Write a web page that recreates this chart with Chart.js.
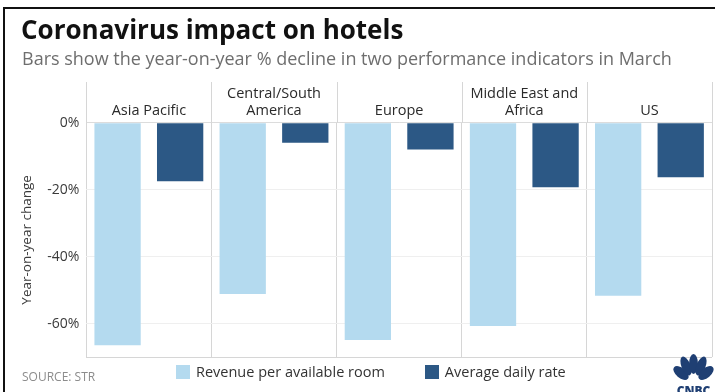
<!DOCTYPE html>
<html>
<head>
<meta charset="utf-8">
<script src="https://cdn.jsdelivr.net/npm/chart.js@4.4.1/dist/chart.umd.min.js"></script>
<style>
  html, body { margin: 0; padding: 0; background: #fff; }
  body { width: 715px; height: 392px; position: relative; overflow: hidden; font-family: 'Open Sans', sans-serif; }
  .frame { position: absolute; left: 3px; top: 7px; width: 730px; height: 400px; border-left: 2px solid #111; border-top: 2px solid #111; }
  #wrap { position: absolute; left: 0; top: 0; width: 715px; height: 392px; }
  .title { position: absolute; left: 21px; top: 16px; font-size: 26px; line-height: 1; font-weight: 700; color: #111; white-space: nowrap; }
  .subtitle { position: absolute; left: 22px; top: 49px; font-size: 18px; line-height: 1; color: #6e6e6e; white-space: nowrap; }
  .source { position: absolute; left: 22px; top: 371px; font-size: 12px; line-height: 1; color: #8c8c8c; white-space: nowrap; }
  .legend { position: absolute; top: 364px; left: 176px; font-size: 14.5px; line-height: 15px; color: #333; white-space: nowrap; }
  .legend span.sw { display: inline-block; width: 14px; height: 14px; vertical-align: -2px; margin-right: 6px; }
  .legend .item { display: inline-block; margin-right: 40px; }
  .logo { position: absolute; left: 672px; top: 352px; }
</style>
</head>
<body>
<div class="frame"></div>
<div id="wrap"><canvas id="chart"></canvas></div>
<div class="title">Coronavirus impact on hotels</div>
<div class="subtitle">Bars show the year-on-year % decline in two performance indicators in March</div>
<div class="source">SOURCE: STR</div>
<div class="legend" id="legend"></div>
<svg class="logo" width="43" height="40" viewBox="0 0 43 40">
  <g fill="#1f3f73">
    <ellipse cx="9" cy="21" rx="5" ry="9" transform="rotate(-50 9 21)"/>
    <ellipse cx="14" cy="14" rx="4.5" ry="10" transform="rotate(-22 14 14)"/>
    <ellipse cx="21.5" cy="12" rx="4.5" ry="10"/>
    <ellipse cx="29" cy="14" rx="4.5" ry="10" transform="rotate(22 29 14)"/>
    <ellipse cx="34" cy="21" rx="5" ry="9" transform="rotate(50 34 21)"/>
  </g>
  <text x="21.5" y="43" text-anchor="middle" font-family="Open Sans" font-weight="800" font-size="12" fill="#1f3f73">CNBC</text>
</svg>
<script>
// regions along the top axis
const regions = ['Asia Pacific', ['Central/South', 'America'], 'Europe', ['Middle East and', 'Africa'], 'US'];
// year-on-year % change, March
const revpar = [-66.5, -51.2, -64.9, -60.7, -51.7];
const adr = [-17.5, -6, -8, -19.3, -16.3];
const seriesNames = ['Revenue per available room', 'Average daily rate'];
const seriesColors = ['#b4daef', '#2c5885'];
const yTicks = [0, -20, -40, -60];

const font = 'Open Sans';
const lineColor = '#d6d6d6';

// carry the panel dividers up through the label band
const dividerPlugin = {
  id: 'dividers',
  afterDraw(chart) {
    const x = chart.scales.x;
    const c = chart.ctx;
    const half = (x.getPixelForValue(1) - x.getPixelForValue(0)) / 2;
    c.save();
    c.strokeStyle = lineColor;
    c.lineWidth = 1;
    for (let i = 0; i <= regions.length; i++) {
      const px = Math.round(x.getPixelForValue(i) - half) + 0.5;
      c.beginPath();
      c.moveTo(px, x.top);
      c.lineTo(px, chart.chartArea.top);
      c.stroke();
    }
    c.restore();
  }
};

const ctx = document.getElementById('chart').getContext('2d');
new Chart(ctx, {
  type: 'bar',
  data: {
    labels: regions,
    datasets: [
      { label: seriesNames[0], data: revpar, backgroundColor: seriesColors[0] },
      { label: seriesNames[1], data: adr, backgroundColor: seriesColors[1] }
    ]
  },
  options: {
    responsive: true,
    maintainAspectRatio: false,
    animation: false,
    layout: { padding: { left: 19, right: 3, top: 82, bottom: 35 } },
    datasets: {
      bar: { categoryPercentage: 1, barPercentage: 0.74, borderWidth: 0 }
    },
    plugins: {
      legend: { display: false },
      tooltip: { enabled: false }
    },
    scales: {
      x: {
        position: 'top',
        grid: {
          offset: true,
          color: lineColor,
          lineWidth: 1,
          drawTicks: false
        },
        border: { display: true, color: '#dcdcdc' },
        ticks: {
          color: '#2a2a2a',
          font: { family: font, size: 14.5 },
          padding: 3,
          maxRotation: 0,
          autoSkip: false
        }
      },
      y: {
        min: -70,
        max: 0,
        afterBuildTicks: function(axis) {
          axis.ticks = yTicks.concat([-70]).map(v => ({ value: v }));
        },
        grid: {
          drawTicks: false,
          color: function(c) {
            return c.tick && c.tick.value === -70 ? lineColor : '#efefef';
          }
        },
        border: { display: false },
        ticks: {
          color: '#3a3a3a',
          font: { family: font, size: 14 },
          padding: 7,
          callback: function(value) {
            return yTicks.includes(value) ? value + '%' : '';
          }
        },
        title: {
          display: true,
          text: 'Year-on-year change',
          color: '#3a3a3a',
          font: { family: font, size: 13.5 },
          padding: { top: 0, bottom: 5 }
        }
      }
    }
  },
  plugins: [dividerPlugin]
});

// legend drawn as html under the plot
const legend = document.getElementById('legend');
seriesNames.forEach((name, i) => {
  const item = document.createElement('span');
  item.className = 'item';
  item.innerHTML = '<span class="sw" style="background:' + seriesColors[i] + '"></span>' + name;
  legend.appendChild(item);
});
</script>
</body>
</html>
